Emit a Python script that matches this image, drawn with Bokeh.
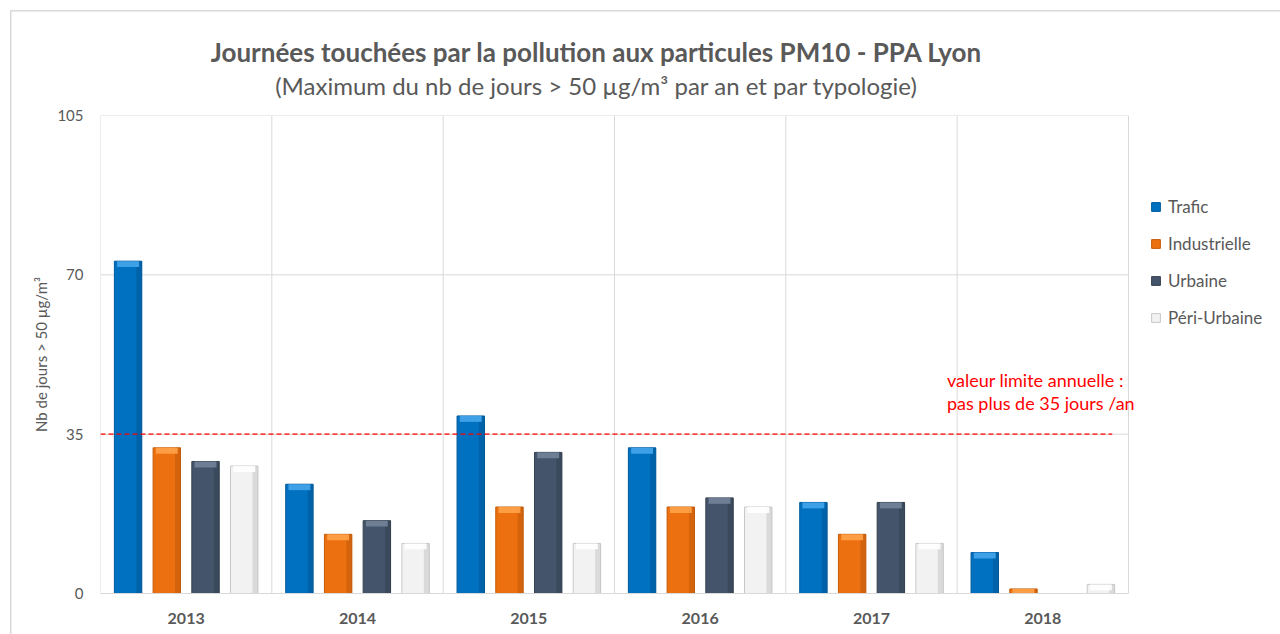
import numpy as np
from bokeh.plotting import figure
from bokeh.models import (Range1d, FixedTicker, Legend, LegendItem, Label,
                          ColumnDataSource, Div)
from bokeh.layouts import column
from bokeh.embed import file_html
from bokeh.resources import INLINE

# ---------------- data ----------------
years = ["2013", "2014", "2015", "2016", "2017", "2018"]
series = ["Trafic", "Industrielle", "Urbaine", "Péri-Urbaine"]
trafic = [73, 24, 39, 32, 20, 9]
industrielle = [32, 13, 19, 19, 13, 1]
urbaine = [29, 16, 31, 21, 20, 0]
peri_urbaine = [28, 11, 11, 19, 11, 2]
limit_value = 35
y_ticks = [0, 35, 70, 105]

title_text = "Journées touchées par la pollution aux particules PM10 - PPA Lyon"
subtitle_text = "(Maximum du nb de jours > 50 µg/m³ par an et par typologie)"
y_label = "Nb de jours > 50 µg/m³"
note_lines = ["valeur limite annuelle :", "pas plus de 35 jours /an"]

# ---------------- style ----------------
FONT = "Lato"
GREY = "#595959"
GRID = "#D9D9D9"
colors = {
    "Trafic": ("#0070C0", "#45A6EC", "#00548F", "#005A9C"),
    "Industrielle": ("#EC700F", "#FFA24A", "#B65508", "#C45C08"),
    "Urbaine": ("#44546A", "#72839A", "#2F3B4B", "#34404F"),
    "Péri-Urbaine": ("#F2F2F2", "#FFFFFF", "#BDBDBD", "#C8C8C8"),
}
values = {"Trafic": trafic, "Industrielle": industrielle,
          "Urbaine": urbaine, "Péri-Urbaine": peri_urbaine}

n = len(years)
y_max = y_ticks[-1]
x_end = n * 1180.0 / 1028.0
bar_w = 0.16
step = 0.226
offsets = [(-1.5 + k) * step for k in range(len(series))]

HEAD_H = 100
p = figure(width=1280, height=634 - HEAD_H, output_backend="svg", toolbar_location=None,
           x_range=Range1d(0, x_end), y_range=Range1d(0, y_max),
           min_border_left=100, min_border_right=0, min_border_top=115 - HEAD_H,
           min_border_bottom=41, title_location=None,
           background_fill_color=None, border_fill_color=None,
           outline_line_color=None)

# title block
head = Div(width=1280, height=HEAD_H - 10, text=(
    f'<div style="position:relative;width:1182px;height:{HEAD_H - 10}px;'
    f'font-family:{FONT};color:{GREY};text-align:center;">'
    f'<div style="position:absolute;left:0;right:0;top:32px;line-height:30px;'
    f'font-size:26px;font-weight:bold;white-space:nowrap;">{title_text}</div>'
    f'<div style="position:absolute;left:0;right:0;top:67px;line-height:28px;'
    f'font-size:24px;white-space:nowrap;">{subtitle_text}</div></div>'))

# grid lines drawn over the category area only
p.xgrid.visible = False
p.ygrid.visible = False
centers = np.arange(n) + 0.5
bounds = np.arange(n + 1)
p.segment(x0=bounds, y0=np.zeros(n + 1), x1=bounds, y1=np.full(n + 1, y_max),
          line_color=GRID, line_width=1)
yt = np.array(y_ticks[1:], dtype=float)
p.segment(x0=np.zeros(len(yt)), y0=yt, x1=np.full(len(yt), n), y1=yt,
          line_color=GRID, line_width=1)

# axes
p.xaxis.ticker = FixedTicker(ticks=list(centers))
p.xaxis.major_label_overrides = {float(c): y for c, y in zip(centers, years)}
p.xaxis.major_label_text_font = FONT
p.xaxis.major_label_text_font_style = "bold"
p.xaxis.major_label_text_font_size = "16px"
p.xaxis.major_label_text_color = GREY
p.xaxis.major_label_standoff = 13
p.xaxis.axis_line_color = GRID
p.xaxis.bounds = (0, n)
p.xaxis.major_tick_line_color = None
p.xaxis.minor_tick_line_color = None

p.yaxis.ticker = FixedTicker(ticks=y_ticks)
p.yaxis.major_label_text_font = FONT
p.yaxis.major_label_text_font_size = "15px"
p.yaxis.major_label_text_color = GREY
p.yaxis.major_label_standoff = 11
p.yaxis.axis_line_color = None
p.yaxis.major_tick_line_color = None
p.yaxis.minor_tick_line_color = None
p.yaxis.axis_label = y_label
p.yaxis.axis_label_text_font = FONT
p.yaxis.axis_label_text_font_size = "15px"
p.yaxis.axis_label_text_font_style = "normal"
p.yaxis.axis_label_text_color = GREY
p.yaxis.axis_label_standoff = 4

# bars
legend_items = []
for k, s in enumerate(series):
    vals = np.array(values[s], dtype=float)
    xs = centers + offsets[k]
    main, cap, edge, line = colors[s]
    src = ColumnDataSource(dict(x=xs, top=vals))
    r = p.vbar(x="x", top="top", bottom=0, width=bar_w, source=src,
               fill_color=main, line_color=line, line_width=1)
    # darker right edge (shading)
    edge_src = ColumnDataSource(dict(x=xs + bar_w * 0.40, top=vals))
    p.vbar(x="x", top="top", bottom=0, width=bar_w * 0.2, source=edge_src,
           fill_color=edge, fill_alpha=0.45, line_color=None)
    # lighter top bevel
    cap_h = np.minimum(vals, 1.3)
    cap_src = ColumnDataSource(dict(x=xs, top=vals, bottom=vals - cap_h))
    p.vbar(x="x", top="top", bottom="bottom", width=bar_w * 0.8, source=cap_src,
           fill_color=cap, fill_alpha=0.9, line_color=None)
    legend_items.append(LegendItem(label=s, renderers=[r]))

# limit line
lim_src = ColumnDataSource(dict(x0=[0], x1=[n - 0.095], y=[limit_value]))
p.segment(x0="x0", y0="y", x1="x1", y1="y", source=lim_src,
          line_color="#FF0000", line_width=1.3, line_dash="5 3")

for j, txt in enumerate(note_lines):
    p.add_layout(Label(x=n - 1.06, y=limit_value + 11.9 - j * 5.0, text=txt,
                       text_font=FONT, text_font_size="18px", text_color="#FF0000",
                       text_baseline="middle", text_align="left"))

legend = Legend(items=legend_items, location=(1050, 265), orientation="vertical",
                background_fill_alpha=0, border_line_color=None,
                label_text_font=FONT, label_text_font_size="17px",
                label_text_color=GREY, glyph_width=11, glyph_height=11,
                label_standoff=7, spacing=16, label_height=20, padding=0, margin=0)
p.add_layout(legend)

layout = column(head, p, spacing=0)
layout.styles = {"box-shadow": "inset 10px 10px 0 0 #ffffff, inset 11.5px 11.5px 0 0 #D9D9D9",
                 "background": "white"}

open("out.html", "w").write(file_html(layout, INLINE))
